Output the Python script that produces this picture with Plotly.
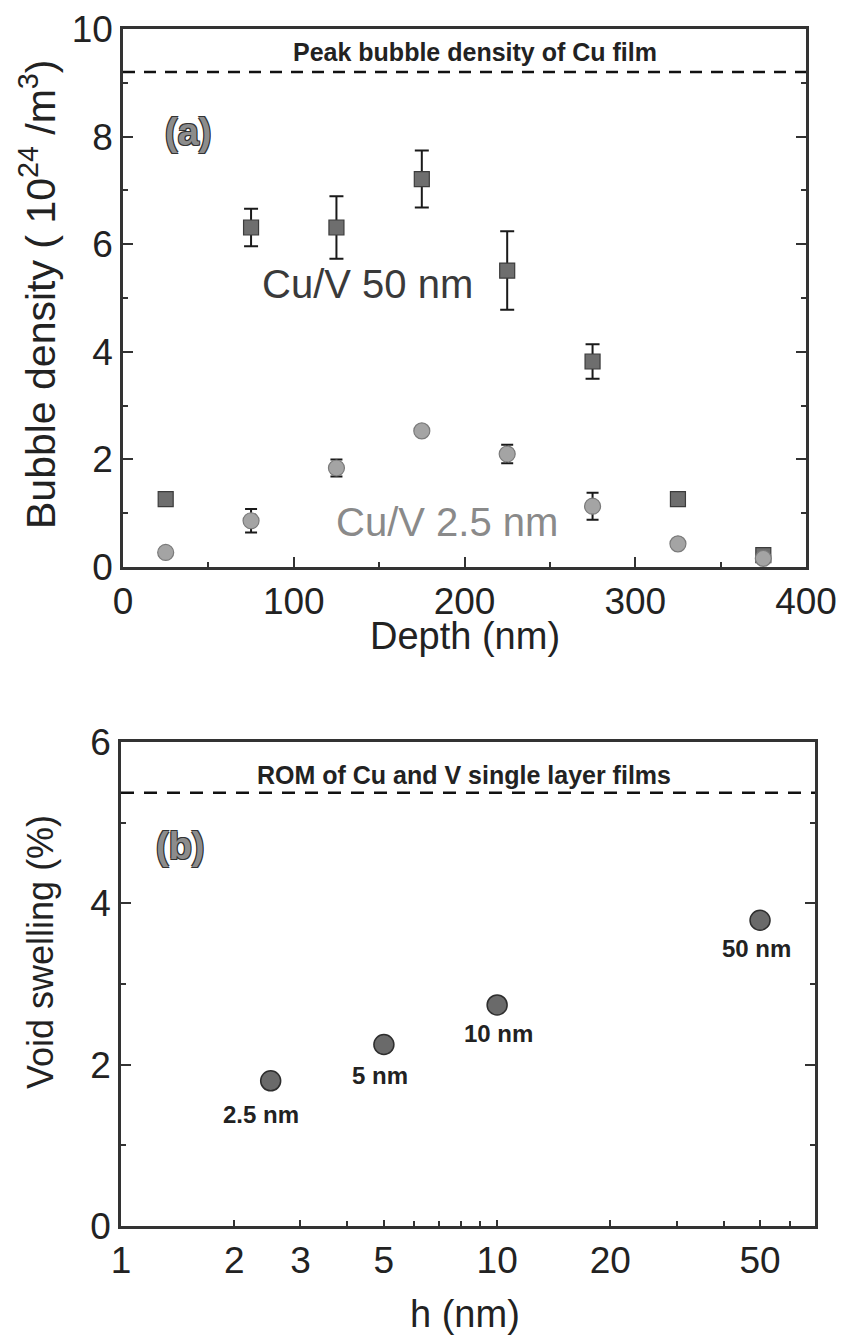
import numpy as np
import plotly.graph_objects as go

# ---------------- data ----------------
depth = [25, 75, 125, 175, 225, 275, 325, 375]
cuv50 = [1.26, 6.31, 6.31, 7.21, 5.51, 3.82, 1.26, 0.22]
cuv50_err = [0, 0.35, 0.58, 0.53, 0.73, 0.32, 0, 0]
cuv25 = [0.27, 0.86, 1.84, 2.53, 2.10, 1.13, 0.43, 0.16]
cuv25_err = [0, 0.22, 0.16, 0, 0.17, 0.25, 0, 0]
peak_cu = 9.2
depth_range = [0, 400]

h_nm = [2.5, 5, 10, 50]
swelling = [1.80, 2.25, 2.74, 3.79]
h_labels = ["2.5 nm", "5 nm", "10 nm", "50 nm"]
rom_single = 5.37
h_range = [1, 70]
h_ticks = [1, 2, 3, 5, 10, 20, 50]
h_minor = [4, 6, 7, 8, 9, 30, 40, 60]

# page body has an 8px margin: figure is placed at (8, 8)
OFF = 8
W, H = 844 - OFF, 1342 - OFF
FONT = "Liberation Sans, Arial, sans-serif"
AX = "#333333"

fig = go.Figure()

# ---------- panel (a) ----------
fig.add_trace(go.Scatter(
    x=depth_range, y=[peak_cu, peak_cu], mode="lines",
    line=dict(color="#111111", width=2.5, dash="12px,9px"),
    xaxis="x", yaxis="y", showlegend=False, hoverinfo="skip"))
fig.add_trace(go.Scatter(
    x=depth, y=cuv50, mode="markers",
    marker=dict(symbol="square", size=15, color="#6e6e6e",
                line=dict(color="#3c3c3c", width=1.2)),
    error_y=dict(type="data", array=cuv50_err, visible=True,
                 color="#1a1a1a", thickness=2, width=7),
    xaxis="x", yaxis="y", showlegend=False))
fig.add_trace(go.Scatter(
    x=depth, y=cuv25, mode="markers",
    marker=dict(symbol="circle", size=16, color="#a4a4a4",
                line=dict(color="#7a7a7a", width=1.2)),
    error_y=dict(type="data", array=cuv25_err, visible=True,
                 color="#1a1a1a", thickness=2, width=6),
    xaxis="x", yaxis="y", showlegend=False))

# ---------- panel (b) ----------
fig.add_trace(go.Scatter(
    x=h_range, y=[rom_single, rom_single], mode="lines",
    line=dict(color="#111111", width=2.5, dash="13px,10px"),
    xaxis="x2", yaxis="y2", showlegend=False, hoverinfo="skip"))
fig.add_trace(go.Scatter(
    x=h_nm, y=swelling, mode="markers",
    marker=dict(symbol="circle", size=20, color="#6a6a6a",
                line=dict(color="#2e2e2e", width=1.5)),
    xaxis="x2", yaxis="y2", showlegend=False))

# ---------- geometry (screen pixels) ----------
a_l, a_r, a_t, a_b = 123, 806, 29, 567
b_l, b_r, b_t, b_b = 121, 815, 742, 1226

def dx(px):
    return (px - OFF) / W

def dy(py):
    return 1 - (py - OFF) / H

tickfont = dict(family=FONT, size=37, color="#222222")
common = dict(showline=True, linecolor=AX, linewidth=2.5, mirror=True,
              ticks="inside", ticklen=10, tickwidth=2, tickcolor=AX,
              showgrid=False, zeroline=False, tickfont=tickfont, automargin=False)

fig.update_layout(
    template="none",
    width=W, height=H,
    margin=dict(l=0, r=0, t=0, b=0, pad=0),
    paper_bgcolor="white", plot_bgcolor="white",
    font=dict(family=FONT, color="#222222"),
    xaxis=dict(domain=[dx(a_l), dx(a_r)], range=depth_range,
               tickvals=[0, 100, 200, 300, 400],
               minor=dict(dtick=50, ticklen=5, ticks="inside", tickwidth=2, tickcolor=AX),
               anchor="y", **common),
    yaxis=dict(domain=[dy(a_b), dy(a_t)], range=[0, 10],
               tickvals=[0, 2, 4, 6, 8, 10],
               minor=dict(dtick=1, ticklen=5, ticks="inside", tickwidth=2, tickcolor=AX),
               anchor="x", **{**common, "mirror": "ticks"}),
    xaxis2=dict(domain=[dx(b_l), dx(b_r)], type="log",
                range=[np.log10(h_range[0]), np.log10(h_range[1])],
                tickvals=h_ticks, ticktext=[str(v) for v in h_ticks],
                minor=dict(tickmode="array", tickvals=h_minor, ticklen=5,
                           ticks="inside", tickwidth=2, tickcolor=AX),
                anchor="y2", **{**common, "ticklen": 6}),
    yaxis2=dict(domain=[dy(b_b), dy(b_t)], range=[0, 6],
                tickvals=[0, 2, 4, 6],
                minor=dict(dtick=1, ticklen=5, ticks="inside", tickwidth=2, tickcolor=AX),
                anchor="x2", **{**common, "mirror": "ticks"}),
)

outline = "-1px -1px 0 #333, 1px -1px 0 #333, -1px 1px 0 #333, 1px 1px 0 #333"
C = dict(xanchor="center", yanchor="middle", showarrow=False)
ann = []
# panel (a) texts
ann.append(dict(x=206, y=9.57, xref="x", yref="y", text="Peak bubble density of Cu film",
                font=dict(family=FONT, size=25, color="#222222", weight="bold"), **C))
ann.append(dict(x=38, y=8.09, xref="x", yref="y", text="(a)",
                font=dict(family=FONT, size=38, color="#8c8c8c", weight="bold", shadow=outline), **C))
ann.append(dict(x=143, y=5.26, xref="x", yref="y", text="Cu/V 50 nm",
                font=dict(family=FONT, size=40, color="#3a3a3a"), **C))
ann.append(dict(x=190, y=0.84, xref="x", yref="y", text="Cu/V 2.5 nm",
                font=dict(family=FONT, size=40, color="#8a8a8a"), **C))
# panel (b) texts
ann.append(dict(x=0.913, y=5.59, xref="x2", yref="y2", text="ROM of Cu and V single layer films",
                font=dict(family=FONT, size=25, color="#222222", weight="bold"), **C))
ann.append(dict(x=0.157, y=4.71, xref="x2", yref="y2", text="(b)",
                font=dict(family=FONT, size=38, color="#8c8c8c", weight="bold", shadow=outline), **C))
xsh = [-10, -4, 1, -4]
ysh = [-34, -31, -29, -28]
for hv, sv, lab, xs, ys in zip(h_nm, swelling, h_labels, xsh, ysh):
    ann.append(dict(x=np.log10(hv), y=sv, xref="x2", yref="y2", text=lab,
                    xshift=xs, yshift=ys,
                    font=dict(family=FONT, size=24, color="#222222", weight="bold"), **C))
# axis titles
ann.append(dict(x=dx(38), y=dy(294), xref="paper", yref="paper", textangle=-90,
                text="Bubble density ( 10<sup>24</sup> /m<sup>3</sup>)",
                font=dict(family=FONT, size=41, color="#222222"), **C))
ann.append(dict(x=dx(40), y=dy(952), xref="paper", yref="paper", textangle=-90,
                text="Void swelling (%)",
                font=dict(family=FONT, size=36, color="#222222"), **C))
ann.append(dict(x=dx(465), y=dy(636), xref="paper", yref="paper",
                text="Depth (nm)",
                font=dict(family=FONT, size=38, color="#222222"), **C))
ann.append(dict(x=dx(465), y=dy(1314), xref="paper", yref="paper",
                text="h (nm)",
                font=dict(family=FONT, size=38, color="#222222"), **C))
fig.update_layout(annotations=ann)

fig.write_html("out.html")
